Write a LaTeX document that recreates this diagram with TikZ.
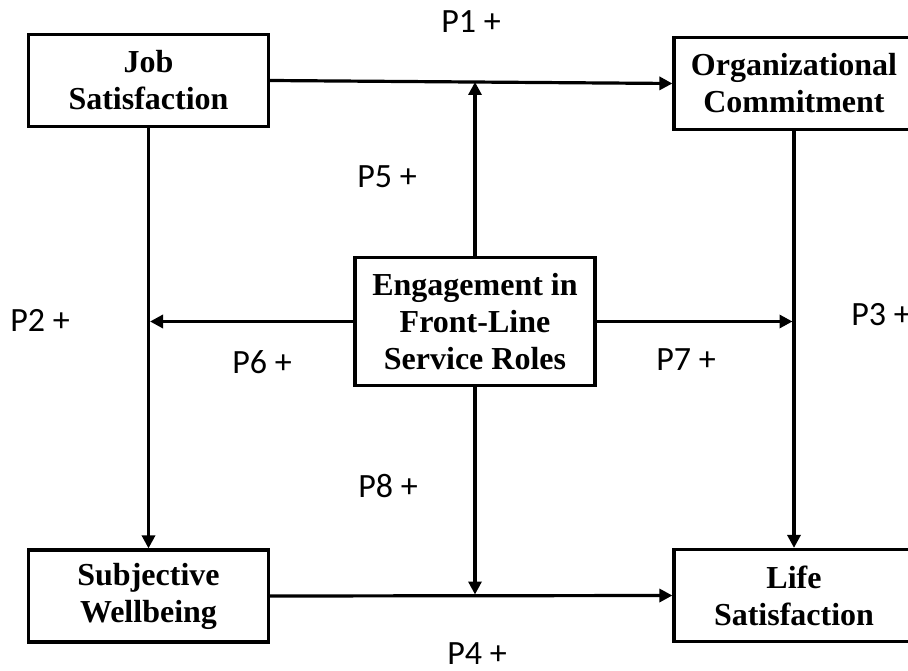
\documentclass[tikz,border=0pt]{standalone}
\usepackage{fontspec}
\setmainfont{Liberation Serif}
\newfontfamily\labelfont{Carlito}
\usetikzlibrary{positioning,arrows.meta}

\tikzset{
  box/.style={draw, line width=3.2pt, minimum width=240pt, minimum height=92pt,
    align=center, inner sep=2pt, font=\bfseries\fontsize{32}{37}\selectfont},
  lbl/.style={anchor=base, font=\labelfont\fontsize{34}{40}\selectfont},
  arr/.style={line width=3.2pt, -{Stealth[inset=0pt,length=13pt,width=13pt]}}
}

\begin{document}
\begin{tikzpicture}[x=1pt,y=-1pt]
  \useasboundingbox (0,0) rectangle (908,671);
  \node [box] (job) at (148.5,80.5) {Job\\Satisfaction};
  \node [box] (org) at (794,83.5) {Organizational\\Commitment};
  \node [box, minimum height=128pt] (eng) at (475,321.5) {Engagement in\\Front-Line\\Service Roles};
  \node [box] (swb) at (148.5,596) {Subjective\\Wellbeing};
  \node [box] (life) at (794,595.5) {Life\\Satisfaction};

  \node [lbl] (p1) at (471,33) {P1 +};
  \node [lbl] (p2) at (40,331) {P2 +};
  \node [lbl] (p3) at (881,325) {P3 +};
  \node [lbl] (p4) at (477,664) {P4 +};
  \node [lbl] (p5) at (387,188) {P5 +};
  \node [lbl] (p6) at (262,373) {P6 +};
  \node [lbl] (p7) at (686,370) {P7 +};
  \node [lbl] (p8) at (388,497) {P8 +};

  % main paths
  \draw [arr] (job.east) -- (org.west);
  \draw [arr] (job.south) -- (swb.north);
  \draw [arr] (org.south) -- (life.north);
  \draw [arr] (swb.east) -- (life.west);

  % moderating paths
  \draw [arr, shorten >=1.5pt] (eng.north) -- (eng.north |- job.east);
  \draw [arr, shorten >=1.5pt] (eng.west) -- (eng.west -| job.south);
  \draw [arr, shorten >=1.5pt] (eng.east) -- (eng.east -| org.south);
  \draw [arr, shorten >=1.5pt] (eng.south) -- (eng.south |- swb.east);
\end{tikzpicture}
\end{document}
